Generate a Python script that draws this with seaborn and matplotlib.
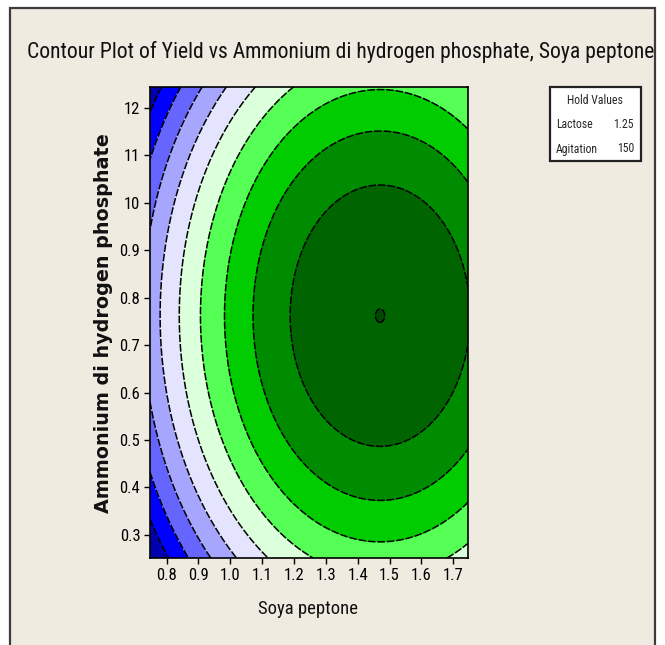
import numpy as np
import matplotlib
matplotlib.use("Agg")
import matplotlib.pyplot as plt
import seaborn as sns
from matplotlib.patches import Rectangle
from matplotlib import font_manager

# Axis ticks and labels
soya_ticks = [0.8, 0.9, 1.0, 1.1, 1.2, 1.3, 1.4, 1.5, 1.6, 1.7]
soya_tick_labels = ["0.8", "0.9", "1.0", "1.1", "1.2", "1.3", "1.4", "1.5", "1.6", "1.7"]
adp_ticks = [0.3, 0.4, 0.5, 0.6, 0.7, 0.8, 0.9, 1.0, 1.1, 1.2]
adp_tick_labels = ["0.3", "0.4", "0.5", "0.6", "0.7", "0.8", "0.9", "10", "11", "12"]
soya_range = (0.748, 1.746)
adp_range = (0.251, 1.245)

# Fitted quadratic response surface for yield
yield_max = 5.0013
opt_soya = 1.470
opt_adp = 0.762
curv_soya = 6.3
curv_adp = 6.6

# Contour levels and band colours (low -> high)
contour_levels = [0.5, 1.0, 1.5, 2.0, 2.5, 3.0, 3.5, 4.0, 4.5, 5.0]
band_colors = ["#0000b0", "#0000ff", "#6666ff", "#a6a6ff", "#e4e4ff",
               "#dcffdc", "#55ff55", "#00cc00", "#008c00", "#006400", "#004a00"]

hold_names = ["Lactose", "Agitation"]
hold_values = ["1.25", "150"]

sns.set_style("ticks")

def pick_font(names):
    avail = {f.name for f in font_manager.fontManager.ttflist}
    for n in names:
        if n in avail:
            return n
    return "DejaVu Sans"

narrow = pick_font(["Liberation Sans Narrow", "Roboto Condensed", "Open Sans Condensed", "Liberation Sans"])
plt.rcParams["font.family"] = [narrow, "DejaVu Sans"]

W, H = 665, 645
fig = plt.figure(figsize=(W / 100, H / 100), dpi=100, facecolor="white")

# Beige panel with dark border
fig.add_artist(Rectangle((10 / W, -0.05), (655 - 10) / W, (H - 8) / H + 0.05,
                         transform=fig.transFigure, facecolor="#efebe1",
                         edgecolor="#3c3c3c", lw=1.6, zorder=0))

ax = fig.add_axes([150 / W, 1 - 558 / H, 318 / W, (558 - 86.7) / H])

xs = np.linspace(soya_range[0], soya_range[1], 600)
ys = np.linspace(adp_range[0], adp_range[1], 600)
X, Y = np.meshgrid(xs, ys)
Z = yield_max - curv_soya * (X - opt_soya) ** 2 - curv_adp * (Y - opt_adp) ** 2

bounds = [Z.min() - 1] + contour_levels + [Z.max() + 1]
ax.contourf(X, Y, Z, levels=bounds, colors=band_colors)
ax.contour(X, Y, Z, levels=contour_levels, colors="black", linewidths=1.1,
           linestyles=[(0, (5, 1.2))])

ax.set_xlim(*soya_range)
ax.set_ylim(*adp_range)
ax.set_xticks(soya_ticks)
ax.set_xticklabels(soya_tick_labels)
ax.set_yticks(adp_ticks)
ax.set_yticklabels(adp_tick_labels)
ax.tick_params(axis="both", direction="out", length=4, width=1, colors="black",
               labelsize=12, pad=3)
for s in ax.spines.values():
    s.set_color("black")
    s.set_linewidth(1.2)

fig.text(341 / W, 1 - 52 / H,
         "Contour Plot of Yield vs Ammonium di hydrogen phosphate, Soya peptone",
         ha="center", va="center", fontsize=15.6, color="#111111")
fig.text(308 / W, 1 - 609 / H, "Soya peptone", ha="center", va="center",
         fontsize=13.5, color="#111111")
fig.text(104 / W, 1 - 323 / H, "Ammonium di hydrogen phosphate", ha="center",
         va="center", rotation=90, fontsize=13.8, fontweight="bold", color="#111111",
         family=["DejaVu Sans"])

# Hold values box
bx0, by0, bx1, by1 = 550, 87, 641, 161
fig.add_artist(Rectangle((bx0 / W, 1 - by1 / H), (bx1 - bx0) / W, (by1 - by0) / H,
                         transform=fig.transFigure, facecolor="white",
                         edgecolor="#222222", lw=1.6, zorder=3))
fig.text(595 / W, 1 - 101 / H, "Hold Values", ha="center", va="center",
         fontsize=8.5, zorder=4)
for i, (nm, val) in enumerate(zip(hold_names, hold_values)):
    yy = 1 - (124 + 25 * i) / H
    fig.text(556 / W, yy, nm, ha="left", va="center", fontsize=8.5, zorder=4)
    fig.text(634 / W, yy, val, ha="right", va="center", fontsize=8.5, zorder=4)

fig.savefig("out.png", dpi=100, facecolor=fig.get_facecolor())
